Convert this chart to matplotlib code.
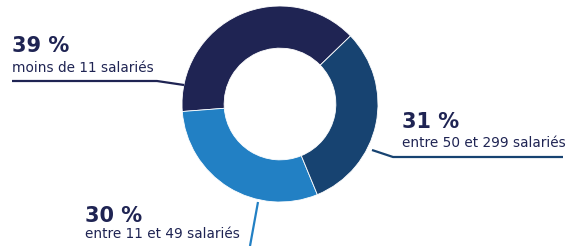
import matplotlib
matplotlib.use("Agg")
from matplotlib import pyplot as plt

# share of companies by size
shares = [39, 30, 31]
pct_labels = ["39 %", "30 %", "31 %"]
size_labels = ["moins de 11 salariés",
               "entre 11 et 49 salariés",
               "entre 50 et 299 salariés"]
colors = ["#1f2453", "#2280c4", "#174371"]
text_color = "#1f2453"

W, H = 567, 246
plt.rcParams['font.family'] = ['DejaVu Sans']

fig = plt.figure(figsize=(W / 100, H / 100), dpi=100)
ax = fig.add_axes([0, 0, 1, 1])

cx, cy, r = 280, H - 104, 98
ax.pie(shares, colors=colors, startangle=44, counterclock=True,
       center=(cx, cy), radius=r,
       wedgeprops=dict(width=r * 0.43, edgecolor="white", linewidth=0.6))

ax.set_xlim(0, W)
ax.set_ylim(0, H)
ax.set_aspect('equal')
ax.axis('off')

# leader lines (pixel coordinates, y from top)
def line(xs, ys, c):
    ax.plot(xs, [H - y for y in ys], color=c, lw=1.6, solid_capstyle="butt")

line([12, 157, 184], [81, 81, 85], colors[0])
line([372, 393, 563], [150, 157, 157], colors[2])
line([258, 250], [202, 246], colors[1])

# labels: (x, baseline of percent, baseline of text)
pos = [(12, 52, 72), (85, 222, 238), (402, 128, 147)]
for (x, yb, yt), p, s in zip(pos, pct_labels, size_labels):
    ax.text(x, H - yb, p, fontsize=15, fontweight='bold', color=text_color,
            va='baseline', ha='left')
    ax.text(x, H - yt, s, fontsize=9.8, color=text_color,
            va='baseline', ha='left')

fig.savefig("out.png", dpi=100)
